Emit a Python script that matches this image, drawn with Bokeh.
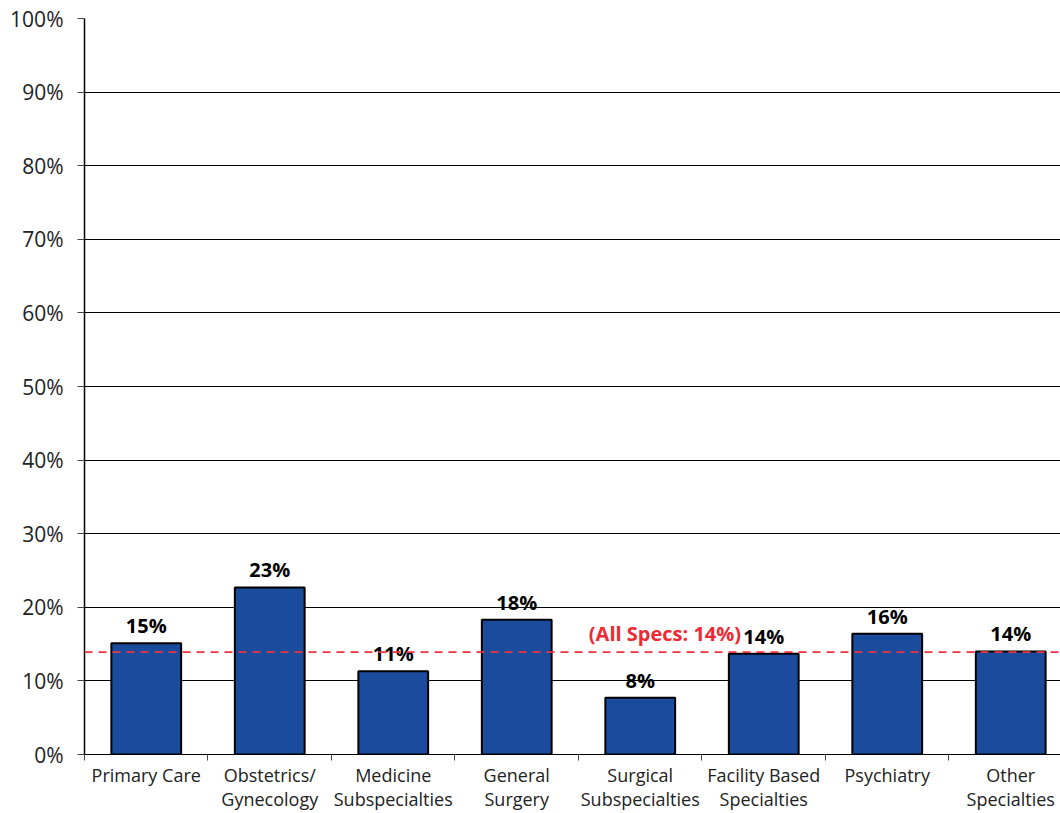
from bokeh.plotting import figure
from bokeh.models import Range1d, FixedTicker, PrintfTickFormatter, Span, ColumnDataSource
from bokeh.core.properties import value
from bokeh.embed import file_html
from bokeh.resources import INLINE

categories = ["Primary Care", "Obstetrics/\nGynecology", "Medicine\nSubspecialties",
              "General\nSurgery", "Surgical\nSubspecialties", "Facility Based\nSpecialties",
              "Psychiatry", "Other\nSpecialties"]
values = [15.1, 22.7, 11.3, 18.3, 7.7, 13.7, 16.4, 14.0]
value_labels = ["15%", "23%", "11%", "18%", "8%", "14%", "16%", "14%"]
all_specs = 13.9
all_specs_label = "(All Specs: 14%)"
y_ticks = list(range(0, 101, 10))

FONT = "Open Sans"
centers = [i + 0.5 for i in range(len(categories))]

p = figure(width=1060, height=813, output_backend="svg", toolbar_location=None,
           x_range=Range1d(0, 7.903), y_range=Range1d(0, 100),
           min_border_left=84, min_border_right=0, min_border_top=18, min_border_bottom=0)
p.outline_line_color = None
p.background_fill_color = "white"
p.border_fill_color = "white"

src = ColumnDataSource(dict(x=centers, top=values, lab=value_labels))
p.vbar(x="x", top="top", width=0.565, bottom=0, source=src,
       fill_color="#1A4B9C", line_color="black", line_width=2)
p.text(x="x", y="top", text="lab", source=src, text_align="center", text_baseline="bottom",
       y_offset=-4, text_font=value(FONT), text_font_style="bold", text_font_size="20px",
       text_color="black")

p.add_layout(Span(location=all_specs, dimension="width", line_color="#EE3340",
                  line_dash="8 6", line_width=1.8))
p.text(x=[4.70], y=[all_specs], text=[all_specs_label], text_align="center",
       text_baseline="bottom", y_offset=-5, text_font=value(FONT), text_font_style="bold",
       text_font_size="20px", text_color="#EE2A33")

# y axis
p.yaxis.ticker = FixedTicker(ticks=y_ticks)
p.yaxis.formatter = PrintfTickFormatter(format="%d%%")
p.yaxis.major_label_text_font = FONT
p.yaxis.major_label_text_font_size = "21px"
p.yaxis.major_label_text_color = "#222222"
p.yaxis.major_tick_out = 7
p.yaxis.major_tick_in = 0
p.yaxis.minor_tick_out = 0
p.yaxis.minor_tick_in = 0
p.yaxis.major_label_standoff = 14
p.yaxis.axis_line_color = "black"
p.yaxis.axis_line_width = 1.5
p.yaxis.major_tick_line_color = "#444444"

# x axis
p.xaxis.ticker = FixedTicker(ticks=centers, minor_ticks=list(range(0, 9)))
p.xaxis.major_label_overrides = {c: lab for c, lab in zip(centers, categories)}
p.xaxis.major_tick_out = 0
p.xaxis.major_tick_in = 0
p.xaxis.minor_tick_out = 6
p.xaxis.minor_tick_in = 0
p.xaxis.minor_tick_line_color = "#444444"
p.xaxis.major_label_standoff = 2
p.xaxis.major_label_text_line_height = 1.0
p.xaxis.major_label_text_font = FONT
p.xaxis.major_label_text_font_size = "18px"
p.xaxis.major_label_text_color = "#222222"
p.xaxis.axis_line_color = "black"
p.xaxis.axis_line_width = 1

p.xgrid.grid_line_color = None
p.ygrid.ticker = FixedTicker(ticks=y_ticks)
p.ygrid.grid_line_color = "black"
p.ygrid.grid_line_width = 1

open("out.html", "w").write(file_html(p, INLINE))
